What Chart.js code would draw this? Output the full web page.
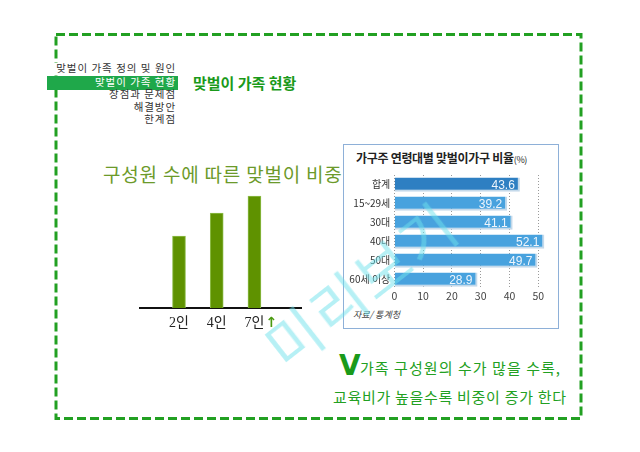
<!DOCTYPE html>
<html><head><meta charset="utf-8">
<script src="https://cdn.jsdelivr.net/npm/chart.js@4/dist/chart.umd.min.js"></script>
<style>
html,body{margin:0;padding:0;background:#fff;}
body{width:640px;height:452px;position:relative;overflow:hidden;font-family:'Noto Sans CJK KR',sans-serif;}
.abs{position:absolute;white-space:nowrap;}
.menu{right:464px;font-family:'Liberation Serif','Noto Sans CJK KR',serif;font-size:10.5px;line-height:12px;height:12px;color:#333;text-align:right;letter-spacing:0.9px;}
#hl{left:47px;top:75.5px;width:131px;height:14px;background:#1fa84a;}
</style></head>
<body>
<svg class="abs" style="left:0;top:0" width="640" height="452">
  <rect x="56" y="34.5" width="525" height="384" fill="none" stroke="#22a022" stroke-width="3" stroke-dasharray="9 4"/>
</svg>

<div class="abs menu" style="top:63px;background:#fff;padding-left:2px">맞벌이 가족 정의 및 원인</div>
<div id="hl" class="abs"></div>
<div class="abs menu" style="top:76.5px;color:#fff">맞벌이 가족 현황</div>
<div class="abs menu" style="top:89px">장점과 문제점</div>
<div class="abs menu" style="top:101.5px">해결방안</div>
<div class="abs menu" style="top:114px">한계점</div>

<div class="abs" style="left:193px;top:72px;font-size:15px;font-weight:bold;color:#1a9a1a;">맞벌이 가족 현황</div>

<div class="abs" style="left:103px;top:160px;font-size:19px;color:#6c9a2a;letter-spacing:0.8px">구성원 수에 따른 맞벌이 비중</div>

<div class="abs" style="left:139px;top:180px;width:163px;height:154px;"><canvas id="c1"></canvas></div>

<div class="abs" style="left:343px;top:144px;width:214px;height:183px;border:1px solid #8eb0d8;"></div>
<div class="abs" style="left:356px;top:149px;font-size:12px;font-weight:bold;color:#222;letter-spacing:-0.3px">가구주 연령대별 맞벌이가구 비율<span style="font-size:9px;font-weight:normal">(%)</span></div>
<div class="abs" style="left:344px;top:165px;width:212px;height:138px;"><canvas id="c2"></canvas></div>
<div class="abs" style="left:353px;top:308px;font-size:9px;color:#444;font-style:italic">자료/ 통계청</div>

<div class="abs" style="left:339px;top:352px;font-size:28px;font-weight:bold;color:#1a9a1a;font-family:'DejaVu Sans',sans-serif;line-height:28px">V</div>
<div class="abs" style="left:360px;top:357px;font-size:15px;color:#22a022;letter-spacing:1.05px">가족 구성원의 수가 많을 수록,</div>
<div class="abs" style="left:333px;top:386px;font-size:15px;color:#22a022;letter-spacing:0.7px">교육비가 높을수록 비중이 증가 한다</div>

<div class="abs" style="left:360px;top:283px;width:0;height:0;">
  <div style="position:absolute;left:-150px;top:-38px;width:300px;height:76px;line-height:76px;text-align:center;font-size:58px;color:rgba(110,225,235,0.5);transform:rotate(-38deg);letter-spacing:3px">미리보기</div>
</div>

<script>
// Left chart: share by household size
const sizeCategories = ['2인', '4인', '7인'];
const sizeValues = [72, 95, 112];

// Right chart: ratio by householder age
const ageCategories = ['합계', '15~29세', '30대', '40대', '50대', '60세 이상'];
const ageValues = [43.6, 39.2, 41.1, 52.1, 49.7, 28.9];
const ageTicks = [0, 10, 20, 30, 40, 50];

Chart.defaults.font.family = "'Noto Sans CJK KR', sans-serif";
Chart.defaults.animation = false;

const arrowPlugin = {
  id: 'arrow',
  afterDraw(chart) {
    const xs = chart.scales.x;
    const ctx = chart.ctx;
    ctx.save();
    ctx.font = "14px 'Liberation Serif','Noto Sans CJK KR'";
    const w = ctx.measureText(sizeCategories[2]).width;
    const x = xs.getPixelForValue(2) + w / 2 + 1;
    const y = chart.chartArea.bottom + 15;
    ctx.font = "bold 14px 'DejaVu Sans'";
    ctx.fillStyle = '#4a9a10';
    ctx.textBaseline = 'middle';
    ctx.fillText('↑', x, y);
    ctx.restore();
  }
};

new Chart(document.getElementById('c1'), {
  type: 'bar',
  data: {
    datasets: [{
      data: sizeValues.map((v, i) => ({ x: i, y: v })),
      backgroundColor: '#5f9200',
      borderColor: '#8ebd4a',
      borderWidth: 1,
      barThickness: 13
    }]
  },
  options: {
    responsive: true, maintainAspectRatio: false,
    layout: { padding: { top: 8, left: 0, right: 0, bottom: 0 } },
    plugins: { legend: { display: false }, tooltip: { enabled: false } },
    scales: {
      x: {
        type: 'linear', min: -1.06, max: 3.26, offset: false,
        afterBuildTicks: s => { s.ticks = sizeCategories.map((c, i) => ({ value: i })); },
        afterFit: s => { s.height = 26; },
        grid: { display: false, drawTicks: false, offset: false },
        border: { display: true, color: '#111', width: 2 },
        ticks: {
          padding: 7, color: '#222',
          font: { size: 14, family: "'Liberation Serif','Noto Sans CJK KR'" },
          callback: v => sizeCategories[v] ?? ''
        }
      },
      y: { display: false, min: 0, max: 120 }
    }
  },
  plugins: [arrowPlugin]
});

const valuePlugin = {
  id: 'vals',
  afterDatasetsDraw(chart) {
    const ctx = chart.ctx;
    const meta = chart.getDatasetMeta(0);
    ctx.save();
    ctx.font = "12px 'Liberation Sans', sans-serif";
    ctx.fillStyle = '#eef5fc';
    ctx.textAlign = 'right';
    ctx.textBaseline = 'middle';
    meta.data.forEach((b, i) => ctx.fillText(ageValues[i].toFixed(1), b.x - 5, b.y + 1));
    ctx.restore();
  }
};

new Chart(document.getElementById('c2'), {
  type: 'bar',
  data: {
    labels: ageCategories,
    datasets: [{
      data: ageValues,
      backgroundColor: ageValues.map((v, i) => i === 0 ? '#2e7fc2' : '#48a2de'),
      borderColor: '#c4d9ea',
      borderWidth: { top: 0, left: 0, right: 2, bottom: 2 },
      borderSkipped: false,
      barPercentage: 0.75, categoryPercentage: 1,
      clip: false
    }]
  },
  options: {
    indexAxis: 'y',
    responsive: true, maintainAspectRatio: false,
    layout: { padding: { top: 3, right: 17.7, left: 0, bottom: 0 } },
    plugins: { legend: { display: false }, tooltip: { enabled: false } },
    scales: {
      x: {
        min: 0, max: 50,
        afterBuildTicks: s => { s.ticks = ageTicks.map(v => ({ value: v })); },
        afterFit: s => { s.height = 14; },
        grid: { color: '#9a9a9a', lineWidth: 1, drawTicks: false },
        border: { display: false, dash: [1, 2] },
        ticks: { padding: 1, color: '#444', font: { size: 10.5 } }
      },
      y: {
        afterFit: s => { s.width = 50.3; },
        grid: { display: false, drawTicks: false },
        border: { display: false },
        ticks: { padding: 4, color: '#333', font: { size: 10 } }
      }
    }
  },
  plugins: [valuePlugin]
});
</script>
</body></html>
